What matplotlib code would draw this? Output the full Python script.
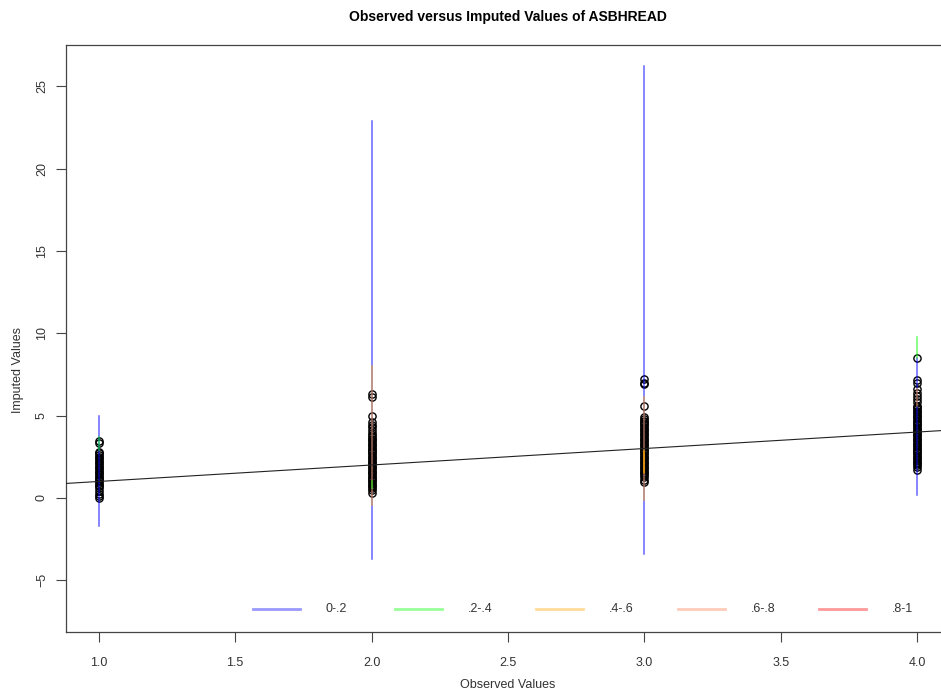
import matplotlib
matplotlib.use("Agg")
import matplotlib.pyplot as plt
from matplotlib.lines import Line2D

plt.rcParams['font.family'] = ['Liberation Sans', 'DejaVu Sans']

# fraction-missing bins and their colours
bin_labels = ['0-.2', '.2-.4', '.4-.6', '.6-.8', '.8-1']
bin_colors = ['blue', 'lime', 'orange', 'coral', 'red']

# 90% intervals of the imputations: observed value, lower, upper, bin index
int_obs = [1, 1, 2, 2, 2, 3, 3, 3, 3, 4, 4, 4]
int_lo = [-1.7, 2.9, -3.7, -0.4, 0.6, -3.4, -0.1, 1.5, 1.6, 0.2, 8.5, 5.6]
int_hi = [5.0, 3.7, 22.9, 8.0, 1.0, 26.2, 6.1, 2.9, 2.8, 8.5, 9.8, 6.6]
int_bin = [0, 1, 0, 2, 1, 0, 2, 2, 2, 0, 1, 2]

# mean imputed values for each observed value
means_1 = [3.45, 3.35, 2.8, 2.7, 2.6, 2.5, 2.4, 2.3, 2.2, 2.1, 2.0, 1.9, 1.8,
           1.7, 1.6, 1.5, 1.4, 1.3, 1.2, 1.1, 1.0, 0.9, 0.8, 0.7, 0.6,
           0.4, 0.25, 0.1, 0.0]
means_2 = [6.3, 6.15, 5.0, 4.6, 4.4, 4.3, 4.1, 3.95, 3.8, 3.7, 3.6, 3.5, 3.4,
           3.3, 3.2, 3.1, 3.0, 2.9, 2.8, 2.7, 2.6, 2.5, 2.4, 2.3, 2.2, 2.1,
           2.0, 1.9, 1.8, 1.7, 1.6, 1.5, 1.4, 1.3, 1.2, 1.1, 1.0, 0.9, 0.8,
           0.7, 0.6, 0.5, 0.3]
means_3 = [7.25, 7.0, 6.9, 5.6, 4.9, 4.8, 4.7, 4.6, 4.5, 4.4, 4.3, 4.2, 4.1,
           4.0, 3.9, 3.8, 3.7, 3.6, 3.5, 3.4, 3.3, 3.2, 3.1, 3.0, 2.9, 2.8,
           2.7, 2.6, 2.5, 2.4, 2.3, 2.2, 2.1, 2.0, 1.9, 1.8, 1.7, 1.6, 1.5,
           1.4, 1.3, 1.1, 0.95]
means_4 = [8.5, 7.15, 7.0, 6.6, 6.4, 6.2, 6.0, 5.8, 5.6, 5.5, 5.4, 5.3, 5.2,
           5.1, 5.0, 4.9, 4.8, 4.7, 4.6, 4.5, 4.4, 4.3, 4.2, 4.1, 4.0, 3.9,
           3.8, 3.7, 3.6, 3.5, 3.4, 3.3, 3.2, 3.1, 3.0, 2.9, 2.8, 2.7, 2.6,
           2.5, 2.4, 2.3, 2.2, 2.1, 2.0, 1.9, 1.7]
observed = [1, 2, 3, 4]
means = [means_1, means_2, means_3, means_4]

fig = plt.figure(figsize=(9.41, 6.93), dpi=100)
ax = fig.add_axes([66 / 941, 61 / 693, 884 / 941, 587 / 693])

for obs, m in zip(observed, means):
    ax.plot([obs] * len(m), m, 'o', ms=5.2, mfc='none', mec='black',
            mew=1.0, zorder=3)

for x, lo, hi, b in zip(int_obs, int_lo, int_hi, int_bin):
    ax.plot([x, x], [lo, hi], color=bin_colors[b], alpha=0.6, lw=1.1,
            zorder=4)

ax.axline((0, 0), slope=1, color='#222222', lw=0.8, zorder=5)

ax.set_xlim(0.88, 4.12)
ax.set_ylim(-8.14, 27.5)
ax.set_xticks([1.0, 1.5, 2.0, 2.5, 3.0, 3.5, 4.0])
ax.set_xticklabels(['1.0', '1.5', '2.0', '2.5', '3.0', '3.5', '4.0'])
ax.set_yticks([-5, 0, 5, 10, 15, 20, 25])
ax.tick_params(length=7, width=0.8, color='#444444', labelsize=9,
               labelcolor='#333333')
ax.tick_params(axis='x', pad=11)
ax.tick_params(axis='y', pad=6)
for lab in ax.get_yticklabels():
    lab.set_rotation(90)
    lab.set_va('center')
for s in ax.spines.values():
    s.set_color('#444444')
    s.set_linewidth(0.9)

fig.text(508 / 941, 1 - 685 / 693, 'Observed Values', fontsize=9,
         color='#333333', ha='center', va='center')
fig.text(18 / 941, 1 - 370 / 693, 'Imputed Values', fontsize=9,
         color='#333333', ha='center', va='center', rotation=90)
fig.text(508 / 941, 1 - 17 / 693, 'Observed versus Imputed Values of ASBHREAD',
         ha='center', va='center', fontsize=10, fontweight='bold')

# horizontal legend along the bottom of the plot region
leg_y = 1 - 609 / 693
for i, (lab, col) in enumerate(zip(bin_labels, bin_colors)):
    x0 = (253 + i * 141.5) / 941
    fig.add_artist(Line2D([x0, x0 + 47 / 941], [leg_y, leg_y], color=col,
                          alpha=0.4, lw=2, transform=fig.transFigure))
    fig.text(x0 + 73 / 941, leg_y, lab, fontsize=9, color='#333333',
             va='center', ha='left')

fig.savefig('out.png', dpi=100)
